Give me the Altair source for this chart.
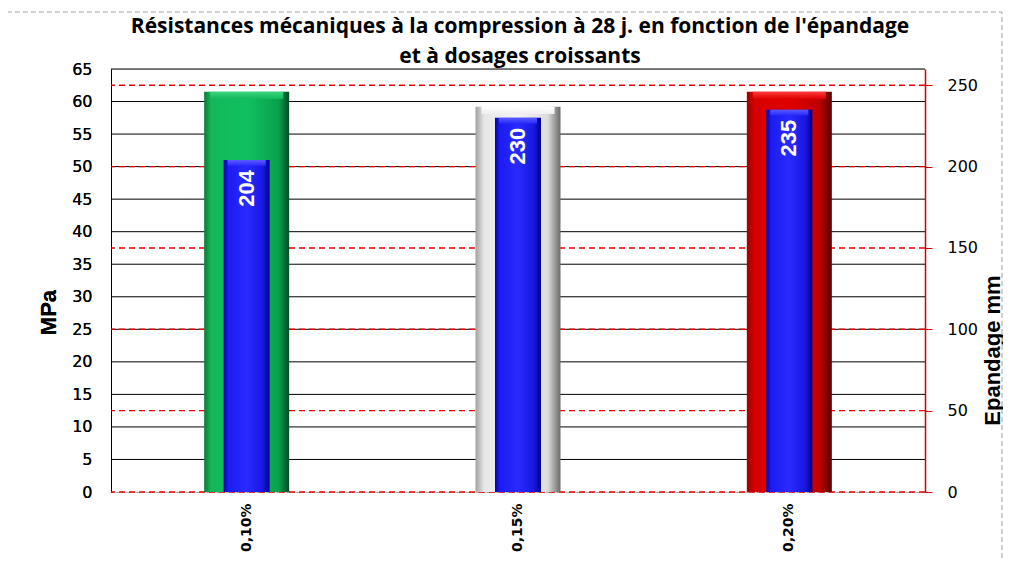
import altair as alt
import pandas as pd

categories = ["0,10%", "0,15%", "0,20%"]
mpa_values = [61.5, 59.2, 61.5]
epandage_values = [204, 230, 235]
mpa_ticks = list(range(0, 70, 5))
mpa_grid = list(range(5, 70, 5))
ep_ticks = [0, 50, 100, 150, 200, 250]
title_lines = ["Résistances mécaniques à la compression à 28 j. en fonction de l'épandage",
               "et à dosages croissants"]

df = pd.DataFrame({"cat": categories, "mpa": mpa_values, "ep": epandage_values})

W, H = 814, 423

def grad(stops, vertical=False):
    if vertical:
        return alt.Gradient(gradient="linear", x1=0, x2=0, y1=0, y2=1,
                            stops=[alt.GradientStop(color=c, offset=o) for o, c in stops])
    return alt.Gradient(
        gradient="linear", x1=0, x2=1, y1=0, y2=0,
        stops=[alt.GradientStop(color=c, offset=o) for o, c in stops],
    )

green = grad([(0, "#0a7a38"), (0.08, "#12b85a"), (0.5, "#10c060"), (0.88, "#0aa04c"), (1, "#044a22")])
silver = grad([(0, "#a0a0a0"), (0.1, "#e6e6e6"), (0.5, "#f4f4f4"), (0.85, "#dcdcdc"), (1, "#6a6a6a")])
red = grad([(0, "#a00000"), (0.1, "#d80000"), (0.5, "#e00000"), (0.85, "#c00000"), (1, "#5a0000")])
blue = grad([(0, "#0000a8"), (0.1, "#1c1cf0"), (0.5, "#2a2aff"), (0.85, "#1818e0"), (1, "#00008a")])

green_top = grad([(0, "#3ad47e"), (1, "#14b85c")], vertical=True)
silver_top = grad([(0, "#ffffff"), (1, "#eeeeee")], vertical=True)
red_top = grad([(0, "#ff3a3a"), (1, "#dd0000")], vertical=True)
blue_top = grad([(0, "#5a5aff"), (1, "#2a2aff")], vertical=True)

xaxis = alt.Axis(title=None, labelAngle=270, labelAlign="right", labelBaseline="middle",
                 labelFont="DejaVu Sans", labelFontWeight="bold", labelFontSize=14,
                 labelColor="black", labelPadding=11, ticks=False,
                 domain=True, domainColor="#b0a0a0", domainDash=[3, 2])
xenc = alt.X("cat:N", sort=categories,
             scale=alt.Scale(domain=categories, paddingInner=0, paddingOuter=0),
             axis=xaxis)

yl_scale = alt.Scale(domain=[0, 65], nice=False)
yr_scale = alt.Scale(domain=[0, 260], nice=False)

left_axis = alt.Axis(
    title="MPa", orient="left", values=mpa_ticks, ticks=False, labelPadding=19,
    labelFont="DejaVu Sans", labelFontSize=16, labelColor="black",
    domain=True, domainColor="black", grid=False,
    titleFont="Liberation Sans", titleFontSize=22, titleFontWeight="bold", titleColor="black",
    titleAngle=270, titleX=-63, titleY=243, titleAlign="center", titleBaseline="middle",
)

right_axis = alt.Axis(
    title="Epandage mm", orient="right", values=ep_ticks,
    ticks=True, tickColor="#d00000", tickSize=7, labelPadding=15,
    labelFont="DejaVu Sans", labelFontSize=16, labelColor="black",
    domain=True, domainColor="#d00000", domainWidth=1.5,
    grid=False,
    titleFont="Liberation Sans", titleFontSize=22, titleFontWeight="bold", titleColor="black",
    titleAngle=270, titleX=67, titleY=281, titleAlign="center", titleBaseline="middle",
)

base = alt.Chart(df)

grid_left = alt.Chart(pd.DataFrame({"v": mpa_grid})).mark_rule(color="black", strokeWidth=1).encode(
    y=alt.Y("v:Q", scale=yl_scale, axis=left_axis),
)

# red dashed gridlines of the right (Epandage) scale, drawn behind the bars
grid_right = alt.Chart(pd.DataFrame({"v": ep_ticks})).mark_rule(
    color="#e60000", strokeWidth=1.4, strokeDash=[6, 4]
).encode(
    y=alt.Y("v:Q", scale=yr_scale, axis=None),
)

def outer(cat, g, gtop):
    b = base.transform_filter(alt.datum.cat == cat)
    body = b.mark_bar(size=85, color=g).encode(
        x=xenc,
        y=alt.Y("mpa:Q", scale=yl_scale, axis=left_axis),
    )
    cap = b.transform_calculate(top2="datum.mpa - 1.1").mark_bar(size=73, color=gtop).encode(
        x=xenc,
        y=alt.Y("mpa:Q", scale=yl_scale, axis=left_axis),
        y2="top2:Q",
    )
    return [body, cap]

left_grid_layer = alt.layer(grid_left)
left_bars = alt.layer(
    *outer(categories[0], green, green_top),
    *outer(categories[1], silver, silver_top),
    *outer(categories[2], red, red_top),
)

blue_bars = base.mark_bar(size=46, color=blue).encode(
    x=xenc,
    y=alt.Y("ep:Q", scale=yr_scale, axis=right_axis),
)
blue_caps = base.transform_calculate(top2="datum.ep - 3.5").mark_bar(size=38, color=blue_top).encode(
    x=xenc,
    y=alt.Y("ep:Q", scale=yr_scale, axis=right_axis),
    y2="top2:Q",
)
labels = base.mark_text(angle=270, align="right", baseline="middle", dx=-10,
                        color="white", font="Liberation Sans", fontWeight="bold", fontSize=22).encode(
    x=xenc,
    y=alt.Y("ep:Q", scale=yr_scale, axis=right_axis),
    text="ep:Q",
)
right_layer = alt.layer(blue_bars, blue_caps, labels)

border = alt.Chart(alt.Data(values=[{}])).mark_rect(
    fill=None, stroke="#a0a0a0", strokeDash=[5, 3], strokeWidth=1, clip=False
).encode(x=alt.value(-104), x2=alt.value(891), y=alt.value(-57), y2=alt.value(520))

def title_line(txt, yv):
    return alt.Chart(pd.DataFrame({"t": [txt]})).mark_text(
        font="Open Sans", fontSize=21, fontWeight="bold", color="black",
        align="center", baseline="middle"
    ).encode(text="t:N", x=alt.value(W / 2 + 2), y=alt.value(yv))

title1 = title_line(title_lines[0], -42)
title2 = title_line(title_lines[1], -12)

chart = alt.layer(
    alt.layer(grid_left, *left_bars.layer[:0]),
    grid_right,
    left_bars.encode(y=alt.Y("mpa:Q", scale=yl_scale, axis=None)) if False else left_bars,
    right_layer, border, title1, title2
).resolve_scale(y="independent").properties(
    width=W, height=H,
    autosize=alt.AutoSizeParams(type="none"),
    padding={"left": 103, "top": 61, "right": 78, "bottom": 67},
).configure_view(stroke=None).configure(background="white")

chart.save("out.html", embed_options={"renderer": "svg", "actions": False})
